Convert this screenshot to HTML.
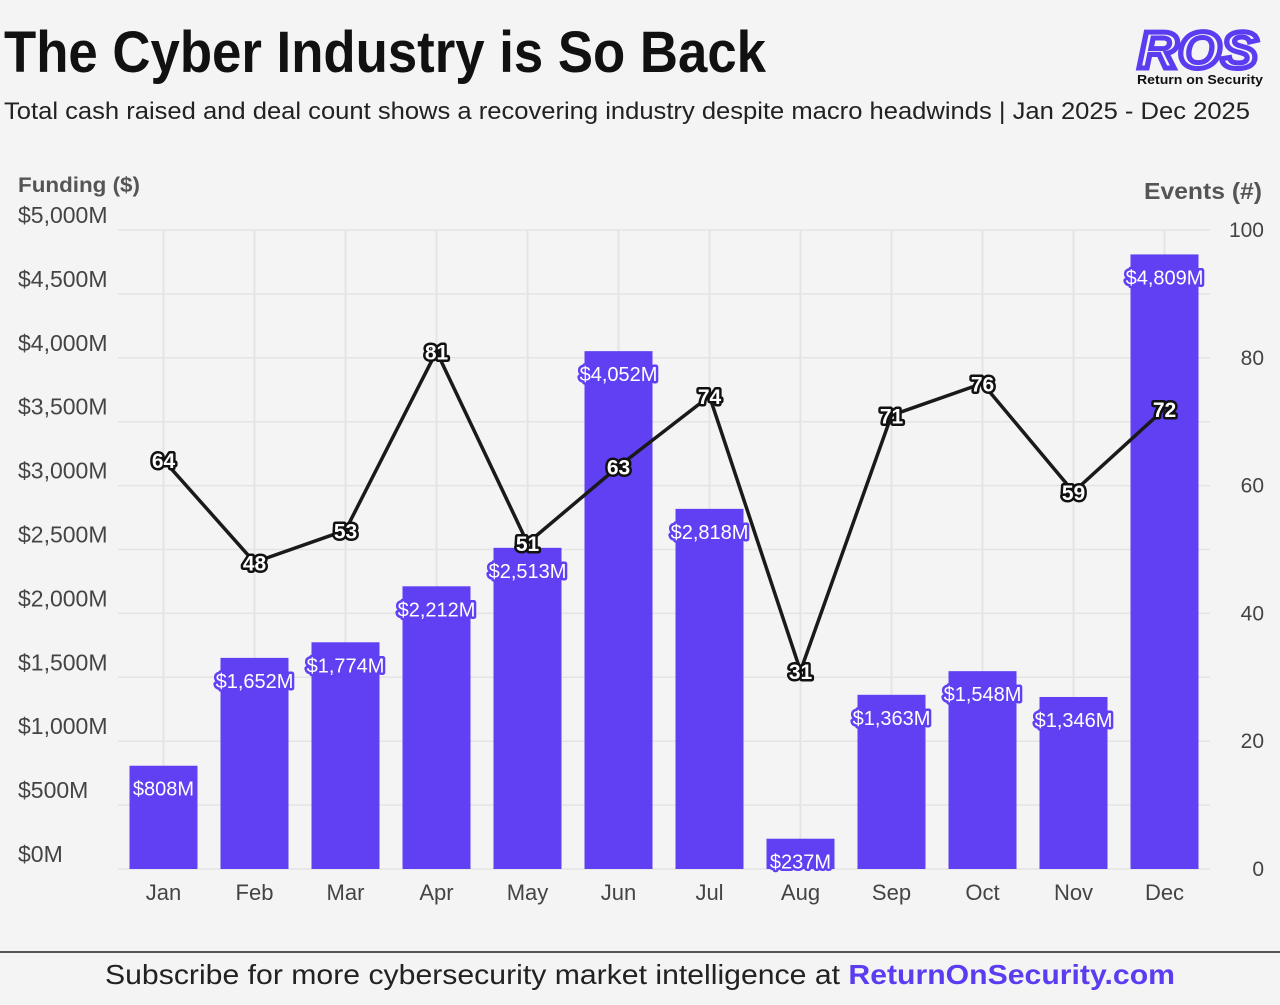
<!DOCTYPE html>
<html><head><meta charset="utf-8"><style>
body{margin:0;width:1280px;height:1000px;background:#f4f4f4;font-family:"Liberation Sans",sans-serif;overflow:hidden}
</style></head><body>
<svg width="1280" height="1000" xmlns="http://www.w3.org/2000/svg">
<text x="4" y="72" font-family="Liberation Sans Narrow, Liberation Sans, sans-serif" font-weight="bold" font-size="58" fill="#111" textLength="762" lengthAdjust="spacingAndGlyphs">The Cyber Industry is So Back</text>
<text x="4" y="119" font-size="24" fill="#222" textLength="1246" lengthAdjust="spacingAndGlyphs">Total cash raised and deal count shows a recovering industry despite macro headwinds | Jan 2025 - Dec 2025</text>
<g>
<text x="1198" y="68" text-anchor="middle" font-size="52" font-weight="bold" fill="none" stroke="#5b3cf0" stroke-width="5" font-style="italic" textLength="120" lengthAdjust="spacingAndGlyphs">ROS</text>
<text x="1200" y="84" text-anchor="middle" font-size="13" font-weight="bold" fill="#111" textLength="126" lengthAdjust="spacingAndGlyphs">Return on Security</text>
</g>
<text x="18" y="192" font-size="21" font-weight="bold" fill="#555" textLength="122" lengthAdjust="spacingAndGlyphs">Funding ($)</text>
<text x="1262" y="199" text-anchor="end" font-size="23" font-weight="bold" fill="#555" textLength="118" lengthAdjust="spacingAndGlyphs">Events (#)</text>
<g id="grid"></g><g id="bars"></g><g id="line"></g><g id="labels"></g><g id="axes"></g>
<line x1="0" y1="952" x2="1280" y2="952" stroke="#222" stroke-width="1.5"/>
<text x="105" y="984" font-size="28" fill="#222" textLength="1070" lengthAdjust="spacingAndGlyphs">Subscribe for more cybersecurity market intelligence at <tspan font-weight="bold" fill="#5b3cf0">ReturnOnSecurity.com</tspan></text>
</svg>
<script>
const months=["Jan","Feb","Mar","Apr","May","Jun","Jul","Aug","Sep","Oct","Nov","Dec"];
const funding=[808,1652,1774,2212,2513,4052,2818,237,1363,1548,1346,4809];
const events=[64,48,53,81,51,63,74,31,71,76,59,72];
const leftTicks=[0,500,1000,1500,2000,2500,3000,3500,4000,4500,5000];
const rightTicks=[0,20,40,60,80,100];
const NS="http://www.w3.org/2000/svg";
const X0=118,X1=1210,Y0=869,Y1=230;
const band=(X1-X0)/12;
const xc=i=>X0+band*(i+0.5);
const yL=v=>Y0-(v/5000)*(Y0-Y1);
const yR=v=>Y0-(v/100)*(Y0-Y1);
function mk(t,a,p){const e=document.createElementNS(NS,t);for(const k in a)e.setAttribute(k,a[k]);p.appendChild(e);return e;}
const grid=document.getElementById('grid'),bars=document.getElementById('bars'),line=document.getElementById('line'),labels=document.getElementById('labels'),axes=document.getElementById('axes');
leftTicks.forEach(v=>{
 const g=mk('line',{x1:X0,x2:X1,y1:yL(v),y2:yL(v),stroke:'#e4e4e4','stroke-width':1.5},grid);
 
 
 const t=mk('text',{x:18,y:yL(v)-7,'font-size':23,fill:'#444'},axes);
 t.textContent='$'+v.toLocaleString('en-US')+'M';
 
 
});
rightTicks.forEach(v=>{
 const t=mk('text',{x:1264,y:yR(v)+7,'text-anchor':'end','font-size':21,fill:'#444'},axes);
 t.textContent=v;
 
 
});
for(let i=0;i<12;i++){
 const g=mk('line',{x1:xc(i),x2:xc(i),y1:Y1,y2:Y0,stroke:'#e4e4e4','stroke-width':2},grid);
 
 
}
months.forEach((m,i)=>{
 const b=mk('rect',{x:xc(i)-34,y:yL(funding[i]),width:68,height:Y0-yL(funding[i]),fill:'#613ff2'},bars);
 
 
 const t=mk('text',{x:xc(i),y:yL(funding[i])+30,'text-anchor':'middle','font-size':20,fill:'#fff',stroke:'#613ff2','stroke-width':5,'paint-order':'stroke','stroke-linejoin':'round'},labels);
 t.textContent='$'+funding[i].toLocaleString('en-US')+'M';
 
 
 const xl=mk('text',{x:xc(i),y:900,'text-anchor':'middle','font-size':22,fill:'#444'},axes);
 xl.textContent=m;
 
 
});
const pl=mk('polyline',{points:events.map((v,i)=>xc(i)+','+yR(v)).join(' '),fill:'none',stroke:'#1a1a1a','stroke-width':3.5,'stroke-linejoin':'round'},line);


events.forEach((v,i)=>{
 const t=mk('text',{x:xc(i),y:yR(v)+8,'text-anchor':'middle','font-size':21,'font-weight':'bold',fill:'#fff',stroke:'#111','stroke-width':5,'paint-order':'stroke','stroke-linejoin':'round'},labels);
 t.textContent=v;
 
 
});
</script>
</body></html>
